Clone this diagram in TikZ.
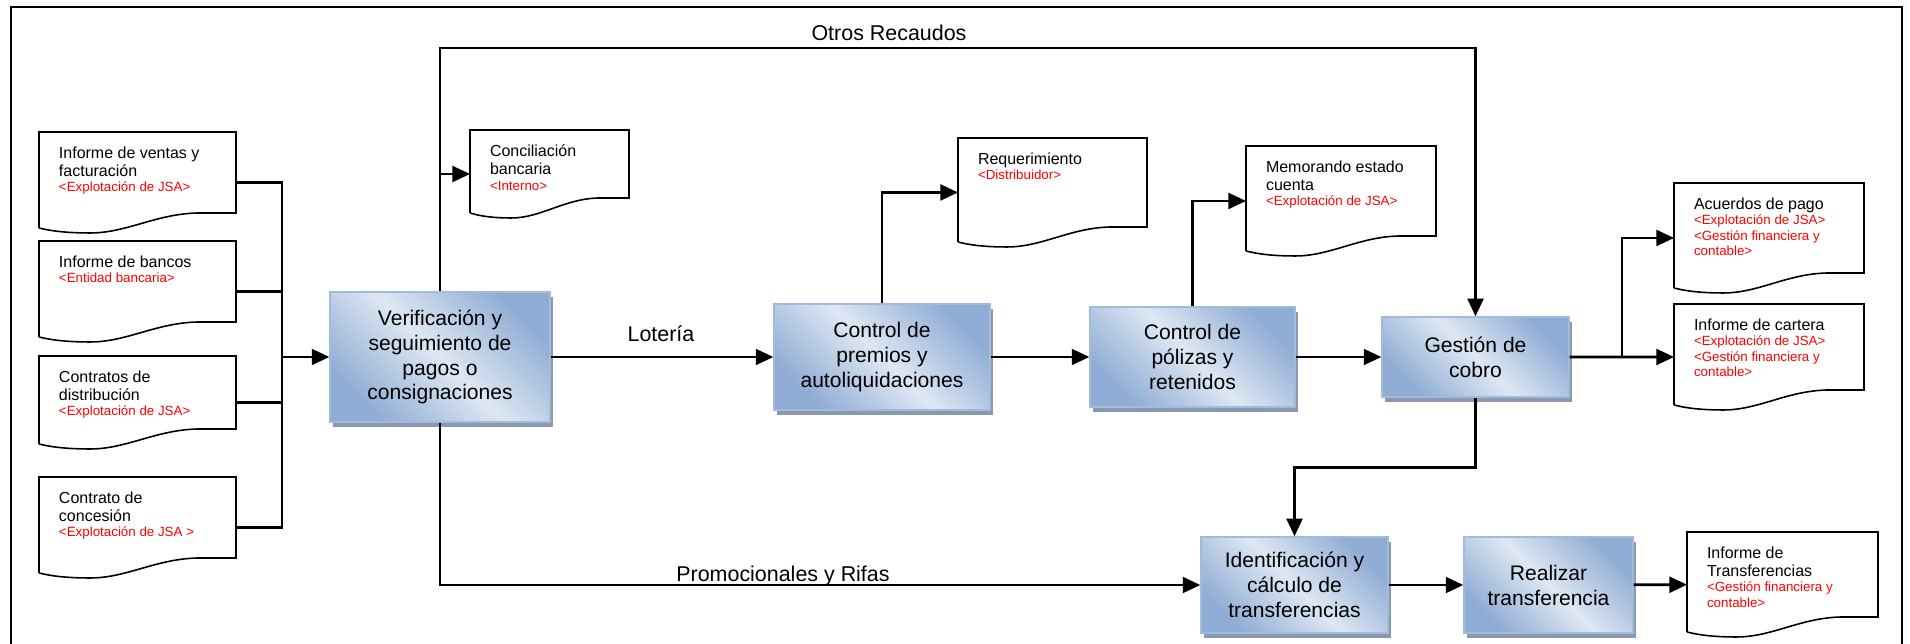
\documentclass[tikz,border=0pt]{standalone}
\usepackage{fontspec}
\setmainfont{Liberation Sans}
\usetikzlibrary{arrows.meta, calc, shadows}

\definecolor{boxdark}{RGB}{143,172,212}
\definecolor{boxlight}{RGB}{222,231,243}
\definecolor{boxedge}{RGB}{160,187,220}
\definecolor{boxshadow}{RGB}{138,153,176}

\tikzset{
    proc/.style={rectangle, draw=boxedge, line width=0.8pt,
        top color=boxdark, bottom color=boxdark, middle color=boxlight, shading angle=-45,
        general shadow={fill=boxshadow, shadow xshift=1.6pt, shadow yshift=-2.8pt},
        align=center, font=\fontsize{12}{14.2}\selectfont, inner sep=0pt},
    doc/.style={rectangle, anchor=north west, inner xsep=0.4cm, inner ysep=0pt, outer sep=0pt},
    docline/.style={draw=black, line width=0.9pt},
    flow/.style={line width=1.5pt, -{Triangle[length=10pt, width=9pt]}},
    link/.style={line width=1.5pt},
    tag/.style={anchor=base, font=\fontsize{12.2}{14}\selectfont, inner sep=0pt},
    frame/.style={line width=1.4pt}
}

% text of a document: inner width, height, black lines, red lines
\newcommand\doctext[4]{%
    \parbox[c][#2][t]{#1}{\raggedright\vspace*{8.5pt}%
    \fontsize{9.1}{10.2}\selectfont #3\par
    \fontsize{7.6}{8.8}\selectfont\leavevmode\color{red}#4}}

% outline of a document with its wavy bottom
\newcommand\docshape[1]{%
    \draw[docline] ($(#1.south west)+(0,-5)$) -- (#1.north west) -- (#1.north east)
        -- ($(#1.south east)+(0,-20)$) -- ($(#1.south west)!0.82!(#1.south east)+(0,-20)$)
        .. controls ($(#1.south west)!0.6!(#1.south east)+(0,-20)$) and ($(#1.south west)!0.45!(#1.south east)$) .. ($(#1.south west)!0.26!(#1.south east)$)
        .. controls ($(#1.south west)!0.14!(#1.south east)$) and ($(#1.south west)!0.06!(#1.south east)+(0,-2)$) .. ($(#1.south west)+(0,-5)$);}

\begin{document}
\begin{tikzpicture}[x=0.02cm, y=-0.02cm]

    \useasboundingbox (0,0) rectangle (1910,644);
    \draw[frame] (11,644) -- (11,7) -- (1902,7) -- (1902,644);

    % processes
    \node[proc, minimum width=4.4cm, minimum height=2.6cm] (verif) at (440,357)
        {Verificación y\\ seguimiento de\\ pagos o\\ consignaciones};
    \node[proc, minimum width=4.32cm, minimum height=2.12cm] (premios) at (882,357)
        {Control de\\ premios y\\ autoliquidaciones};
    \node[proc, minimum width=4.1cm, minimum height=2cm] (polizas) at (1192.5,357)
        {Control de\\ pólizas y\\ retenidos};
    \node[proc, minimum width=3.74cm, minimum height=1.6cm] (gestion) at (1475.5,357)
        {Gestión de\\ cobro};
    \node[proc, minimum width=3.74cm, minimum height=1.92cm] (identif) at (1294.5,585)
        {Identificación y\\ cálculo de\\ transferencias};
    \node[proc, minimum width=3.38cm, minimum height=1.92cm] (realizar) at (1548.5,585)
        {Realizar\\ transferencia};

    % documents
    \node[doc] (ventas) at (39,132) {\doctext{3.14cm}{2.02cm}{Informe de ventas y\\ facturación}{<Explotación de JSA>}};
    \node[doc] (bancos) at (39,241) {\doctext{3.14cm}{2.02cm}{Informe de bancos}{<Entidad bancaria>}};
    \node[doc] (contratos) at (39,356) {\doctext{3.14cm}{1.86cm}{Contratos de\\ distribución}{<Explotación de JSA>}};
    \node[doc] (concesion) at (39,477) {\doctext{3.14cm}{2.02cm}{Contrato de\\ concesión}{<Explotación de JSA >}};
    \node[doc] (concil) at (470,130) {\doctext{2.38cm}{1.76cm}{Conciliación\\ bancaria}{<Interno>}};
    \node[doc] (requer) at (958,138) {\doctext{2.98cm}{2.18cm}{Requerimiento}{<Distribuidor>}};
    \node[doc] (memo) at (1246,146) {\doctext{3cm}{2.2cm}{Memorando estado\\ cuenta}{<Explotación de JSA>}};
    \node[doc] (acuerdos) at (1674,183) {\doctext{3cm}{2.2cm}{Acuerdos de pago}{<Explotación de JSA>\\ <Gestión financiera y\\ contable>}};
    \node[doc] (cartera) at (1674,304) {\doctext{3cm}{2.12cm}{Informe de cartera}{<Explotación de JSA>\\ <Gestión financiera y\\ contable>}};
    \node[doc] (transf) at (1687,532) {\doctext{3.02cm}{2.1cm}{Informe de\\ Transferencias}{<Gestión financiera y\\ contable>}};

    \foreach \d in {ventas, bancos, contratos, concesion, concil, requer, memo, acuerdos, cartera, transf}
        {\docshape{\d}}

    % inputs
    \coordinate (bus) at (282,357);
    \foreach \d in {ventas, bancos, contratos, concesion}
        \draw[link] (\d.east) -| (bus);
    \draw[flow] (bus) -- (verif.west);

    % main line
    \draw[flow] (verif) -- (premios);
    \node[tag] (loteria) at (661,342) {Lotería};
    \draw[flow] (premios) -- (polizas);
    \draw[flow] (polizas) -- (gestion);
    \draw[flow] (premios.north) |- (requer.west);
    \draw[flow] (polizas.north) |- (memo.west);

    % otros recaudos
    \coordinate (otros) at (889,48);
    \draw[flow] (verif.north) |- (otros) -| (gestion.north);
    \node[tag] (otroslbl) at (889,41) {Otros Recaudos};
    \draw[flow] (verif.north |- concil.west) -- (concil.west);

    % outputs of gestion
    \coordinate (split) at (1622,357);
    \draw[flow] (gestion) -- (cartera);
    \draw[flow] (split) |- (acuerdos.west);
    \draw[flow] (gestion.south) -- ++(0,70) -| (identif.north);

    % promocionales
    \draw[flow] (verif.south) |- (identif.west);
    \node[tag] (promo) at (783,582) {Promocionales y Rifas};

    \draw[flow] (identif) -- (realizar);
    \draw[flow] (realizar) -- (transf);

\end{tikzpicture}
\end{document}
